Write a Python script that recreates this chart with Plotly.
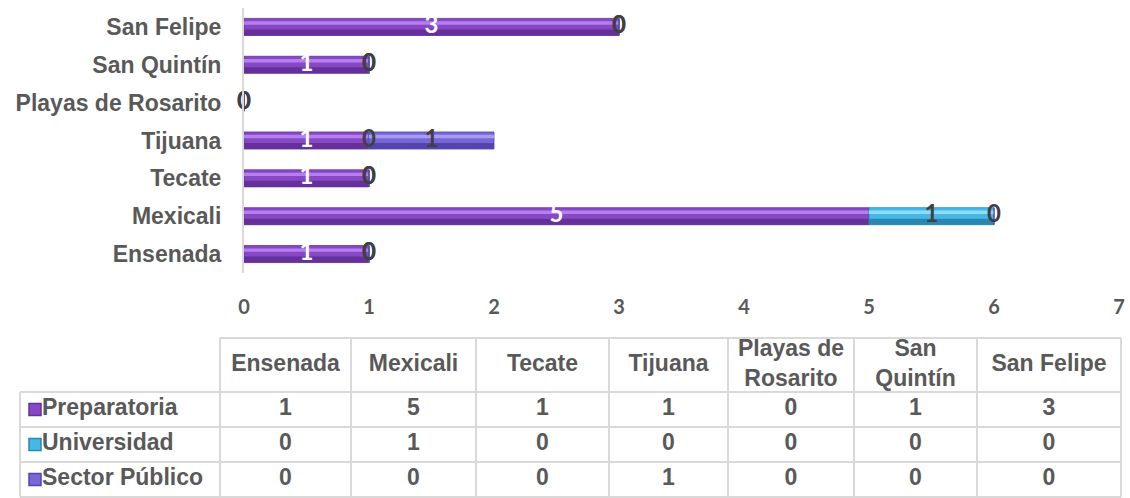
import plotly.graph_objects as go

# ---------------- data ----------------
categories = ["Ensenada", "Mexicali", "Tecate", "Tijuana",
              "Playas de Rosarito", "San Quintín", "San Felipe"]
header_labels = ["Ensenada", "Mexicali", "Tecate", "Tijuana",
                 "Playas de<br>Rosarito", "San<br>Quintín", "San Felipe"]
series_names = ["Preparatoria", "Universidad", "Sector Público"]
preparatoria = [1, 5, 1, 1, 0, 1, 3]
universidad = [0, 1, 0, 0, 0, 0, 0]
sector_publico = [0, 0, 0, 1, 0, 0, 0]
x_ticks = [0, 1, 2, 3, 4, 5, 6, 7]

# ---------------- styles ----------------
W, H = 1130, 498
series_values = [preparatoria, universidad, sector_publico]
base_colors = ["#8748c6", "#45b8e6", "#7767d6"]
light_colors = ["#b67ff0", "#8fdcf8", "#a79cf2"]
dark_colors = ["#65309a", "#2a86b2", "#5444b0"]
label_colors = ["#ffffff", "#404040", "#404040"]
TEXT = "#595959"
GRID = "#d9d9d9"
BAR_W = 0.45
FONT = "Liberation Sans"
TFONT = 23

fig = go.Figure()

# ---------------- stacked bars ----------------
cum = [0] * len(categories)
label_x, label_y, label_t, label_c = [], [], [], []
for i, vals in enumerate(series_values):
    base = list(cum)
    fig.add_trace(go.Bar(
        y=categories, x=vals, base=base, orientation="h", width=BAR_W,
        marker=dict(color=base_colors[i], line=dict(color=dark_colors[i], width=0.8)),
        name=series_names[i], showlegend=False, hoverinfo="skip"))
    fig.add_trace(go.Bar(
        y=categories, x=vals, base=base, orientation="h", width=0.16,
        offset=-BAR_W / 2, marker=dict(color=dark_colors[i], line=dict(width=0)),
        showlegend=False, hoverinfo="skip"))
    fig.add_trace(go.Bar(
        y=categories, x=vals, base=base, orientation="h", width=0.09,
        offset=0.06, marker=dict(color=light_colors[i], line=dict(width=0)),
        showlegend=False, hoverinfo="skip"))
    for j, v in enumerate(vals):
        label_x.append(base[j] + v / 2)
        label_y.append(categories[j])
        label_t.append(str(v))
        label_c.append(label_colors[i])
        cum[j] += v

fig.add_trace(go.Scatter(
    x=label_x, y=label_y, text=label_t, mode="text", cliponaxis=False,
    textfont=dict(family="Lato", size=24, color=label_c, weight="bold"),
    textposition="middle center", showlegend=False, hoverinfo="skip"))

# ---------------- data table (drawn on a pixel-unit helper axis) ----------------
col_edges = [220, 351, 476, 609, 728, 854, 977, 1121]   # layout (px)
row_edges = [338, 392, 427, 462, 497]                   # layout (px)
TABLE_LEFT = 20
col_centers = [(col_edges[k] + col_edges[k + 1]) / 2 for k in range(len(categories))]
row_centers = [(row_edges[k] + row_edges[k + 1]) / 2 for k in range(len(row_edges) - 1)]

# header
fig.add_trace(go.Scatter(
    x=col_centers, y=[row_centers[0]] * len(categories), text=header_labels,
    mode="text", textposition="middle center", xaxis="x2", yaxis="y2",
    textfont=dict(family=FONT, size=TFONT, color=TEXT, weight="bold"),
    showlegend=False, hoverinfo="skip", cliponaxis=False))
# values
vx, vy, vt = [], [], []
for r, vals in enumerate(series_values):
    for j, v in enumerate(vals):
        vx.append(col_centers[j])
        vy.append(row_centers[r + 1])
        vt.append(str(v))
fig.add_trace(go.Scatter(
    x=vx, y=vy, text=vt, mode="text", textposition="middle center",
    xaxis="x2", yaxis="y2",
    textfont=dict(family=FONT, size=TFONT, color=TEXT, weight="bold"),
    showlegend=False, hoverinfo="skip", cliponaxis=False))
# row labels + legend keys
fig.add_trace(go.Scatter(
    x=[35] * 3, y=row_centers[1:], mode="markers", xaxis="x2", yaxis="y2",
    marker=dict(symbol="square", size=12, color=base_colors,
                line=dict(color=dark_colors, width=1.5)),
    showlegend=False, hoverinfo="skip", cliponaxis=False))
fig.add_trace(go.Scatter(
    x=[42] * 3, y=row_centers[1:], text=series_names, mode="text",
    textposition="middle right", xaxis="x2", yaxis="y2",
    textfont=dict(family=FONT, size=TFONT, color=TEXT, weight="bold"),
    showlegend=False, hoverinfo="skip", cliponaxis=False))

# grid lines of the table
shapes = []
line = dict(color=GRID, width=2)
shapes.append(dict(type="line", xref="x2", yref="y2", x0=col_edges[0], x1=col_edges[-1],
                   y0=row_edges[0], y1=row_edges[0], line=line))
for yv in row_edges[1:]:
    shapes.append(dict(type="line", xref="x2", yref="y2", x0=TABLE_LEFT, x1=col_edges[-1],
                       y0=yv, y1=yv, line=line))
shapes.append(dict(type="line", xref="x2", yref="y2", x0=TABLE_LEFT, x1=TABLE_LEFT,
                   y0=row_edges[1], y1=row_edges[-1], line=line))
for xv in col_edges:
    shapes.append(dict(type="line", xref="x2", yref="y2", x0=xv, x1=xv,
                       y0=row_edges[0], y1=row_edges[-1], line=line))

fig.update_layout(
    width=W, height=H, barmode="overlay",
    margin=dict(l=0, r=0, t=0, b=0, autoexpand=False),
    paper_bgcolor="white", plot_bgcolor="white",
    shapes=shapes,
    xaxis=dict(domain=[244 / W, 1119 / W], range=[0, 7], tickvals=x_ticks,
               automargin=False, ticklabeloverflow="allow",
               showgrid=False, zeroline=False, showline=False,
               ticks="", ticklabelstandoff=20,
               tickfont=dict(family="Lato", size=20, color=TEXT, weight="bold")),
    yaxis=dict(domain=[1 - 273 / H, 1 - 8 / H], type="category",
               categoryorder="array", categoryarray=categories,
               automargin=False,
               showgrid=False, zeroline=False, showline=True,
               linecolor=GRID, linewidth=2, ticks="", ticklabelstandoff=16,
               tickfont=dict(family=FONT, size=TFONT, color=TEXT, weight="bold")),
    xaxis2=dict(domain=[0, 1], range=[0, W], visible=False, fixedrange=True,
                anchor="y2"),
    yaxis2=dict(domain=[0, (H - 330) / H], range=[H, 330], visible=False,
                fixedrange=True, anchor="x2"),
)

fig.write_html("out.html", config={"displayModeBar": False},
               post_script="document.body.style.margin='0';document.body.style.overflow='hidden';")
